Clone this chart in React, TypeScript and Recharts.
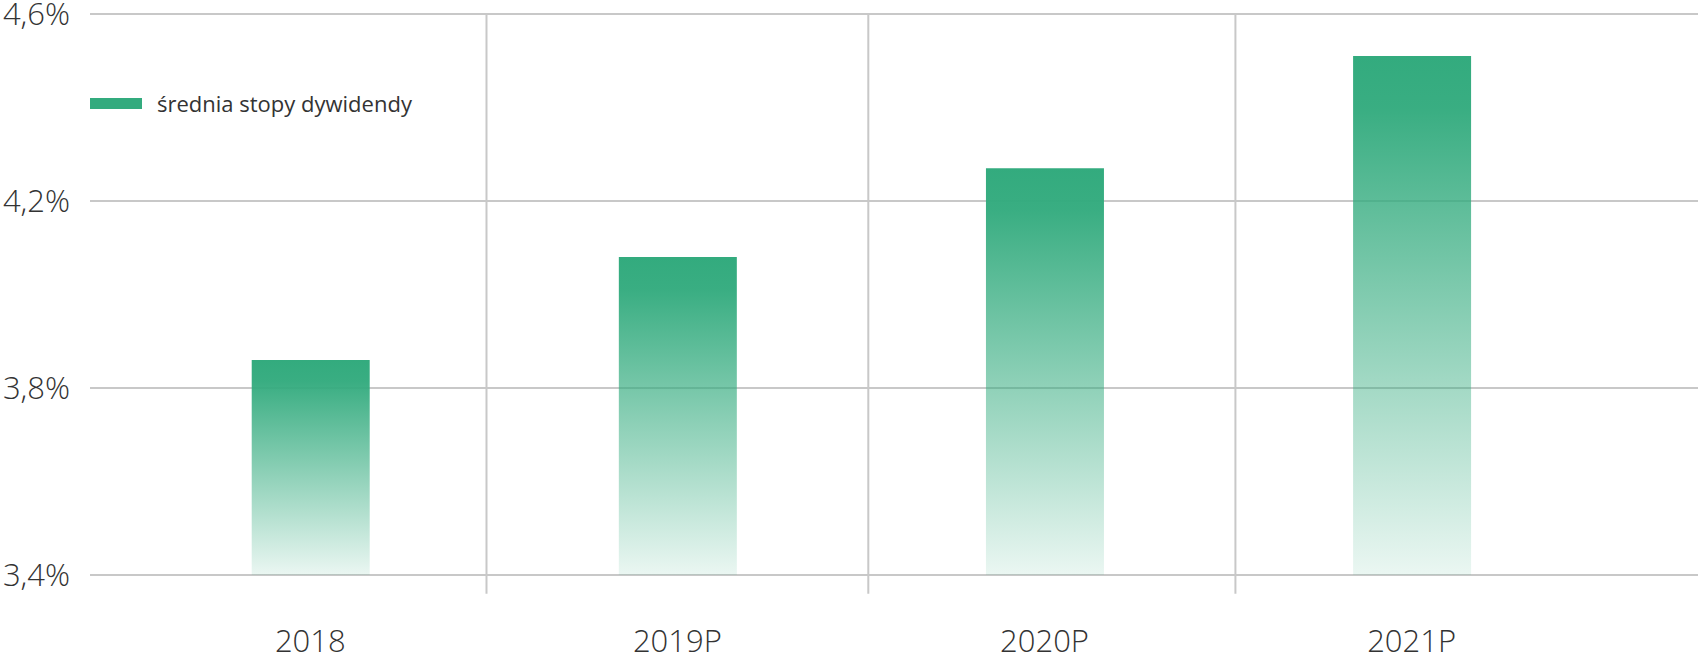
import { BarChart, Bar, XAxis, YAxis, CartesianGrid, ReferenceLine, Legend } from 'recharts';

const categories = ['2018', '2019P', '2020P', '2021P'];
const positions = [0, 1, 2, 3];
const dividendYield = [3.86, 4.08, 4.27, 4.51];
const yTicks = [3.4, 3.8, 4.2, 4.6];
const separators = [0.48, 1.52, 2.52];

const GREEN = '#33ab7e';
const GRID = '#c8c8c8';
const FONT = '"Open Sans", "Noto Sans", sans-serif';

const data = categories.map((name, i) => ({ name, pos: positions[i], value: dividendYield[i] }));

const fmtPct = (v: number) => `${v.toFixed(1).replace('.', ',')}%`;

function LegendContent() {
	return (
		<div style={styles.legend}>
			<span style={styles.swatch} />
			<span style={styles.legendText}>średnia stopy dywidendy</span>
		</div>
	);
}

export default function App() {
	return (
		<div style={styles.page}>
			<BarChart width={1698} height={657} data={data} margin={{ top: 14, right: 0, bottom: 0, left: 0 }}>
				<defs>
					<linearGradient id="barFade" x1="0" y1="0" x2="0" y2="1">
						<stop offset="0%" stopColor={GREEN} stopOpacity={1} />
						<stop offset="10%" stopColor={GREEN} stopOpacity={0.97} />
						<stop offset="100%" stopColor={GREEN} stopOpacity={0.1} />
					</linearGradient>
				</defs>
				<XAxis
					dataKey="pos"
					type="number"
					domain={[-0.6, 3.78]}
					ticks={positions}
					tickFormatter={(v: number) => categories[v] ?? ''}
					axisLine={false}
					tickLine={false}
					tickSize={0}
					tickMargin={55}
					height={82}
					interval={0}
					tick={{ fill: '#333', fontSize: 31, fontFamily: FONT, fontWeight: 300 }}
				/>
				<YAxis
					type="number"
					domain={[3.4, 4.6]}
					ticks={yTicks}
					tickFormatter={fmtPct}
					axisLine={false}
					tickLine={false}
					tickSize={0}
					tickMargin={20}
					width={90}
					interval={0}
					tick={{ fill: '#333', fontSize: 31, fontFamily: FONT, fontWeight: 300 }}
				/>
				<Legend
					layout="horizontal"
					verticalAlign="middle"
					align="center"
					content={<LegendContent />}
					wrapperStyle={{ position: 'absolute', left: 90, top: 90, width: 'auto' }}
				/>
				<Bar dataKey="value" barSize={118} fill="url(#barFade)" isAnimationActive={false} />
				<CartesianGrid vertical={false} stroke={GRID} strokeWidth={2} />
				{separators.map((x) => (
					<ReferenceLine
						key={x}
						ifOverflow="visible"
						segment={[{ x, y: 4.6 }, { x, y: 3.36 }]}
						stroke={GRID}
						strokeWidth={2}
					/>
				))}
			</BarChart>
		</div>
	);
}

const styles: Record<string, React.CSSProperties> = {
	page: {
		position: 'absolute',
		left: 0,
		top: 0,
		background: '#fff',
	},
	legend: {
		display: 'flex',
		alignItems: 'center',
		fontFamily: FONT,
	},
	swatch: {
		display: 'inline-block',
		width: 52,
		height: 11,
		background: GREEN,
		marginRight: 15,
	},
	legendText: {
		fontSize: 22,
		fontWeight: 400,
		color: '#333',
		lineHeight: '26px',
	},
};
